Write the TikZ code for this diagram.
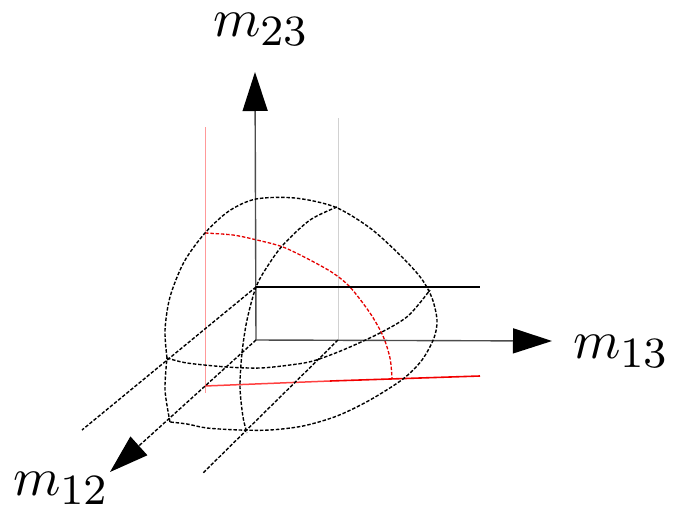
\documentclass[tikz,border=0pt]{standalone}
\usetikzlibrary{arrows.meta}
\DeclareMathSizes{10}{10}{8}{6}
\begin{document}
\begin{tikzpicture}[x=1pt,y=-1pt,
  dsh/.style={line width=1.4pt, dash pattern=on 3.5pt off 1.8pt, black},
  rdsh/.style={line width=1.3pt, dash pattern=on 3.5pt off 1.8pt, red!90!black},
  axisline/.style={line width=1.4pt, black!70},
  tiptri/.style={-{Triangle[length=39pt,width=25pt,color=black]}},
  lbl/.style={scale=5.4, inner sep=0pt, anchor=base west},
  every plot/.style={smooth, tension=0.5}]
\useasboundingbox (0,0) rectangle (673,507);
% key points
\coordinate (O) at (256,340);
\coordinate (P) at (256,287);
\coordinate (T23) at (255,72);
\coordinate (T13) at (552,341);
\coordinate (T12) at (110,472);
\coordinate (U) at (480,287);
\coordinate (L1e) at (82,430);
\coordinate (G) at (338,340);
\coordinate (Gt) at (338,118);
\coordinate (L3e) at (203,473);
\coordinate (R) at (205,386);
\coordinate (Rm) at (330,381);
\coordinate (Rt) at (205,127);
\coordinate (Rb) at (205,393);
\coordinate (Rr) at (480,376);
% thin guide lines
\draw[red!40, line width=0.9pt] (Rt) -- (Rb);
\draw[black!18, line width=0.9pt] (Gt) -- (G);
% red section
\draw[red!75, line width=1.5pt] (R) -- (Rm);
\draw[red!95!black, line width=1.6pt] (Rm) -- (Rr);
\draw[rdsh] plot coordinates {(205,233) (233,235) (257,240) (283,247) (310,260) (333,273) (350,287) (370,313) (383,336) (390,358) (392,378)};
% axes
\draw[axisline,tiptri] (O) -- (T23);
\draw[axisline,tiptri] (O) -- (T13);
\draw[dsh,tiptri] (O) -- (T12);
\draw[line width=1.5pt] (P) -- (U);
% lines along m12
\draw[dsh] (P) -- (L1e);
\draw[dsh] (G) -- (L3e);
% outer surface
\draw[dsh] plot coordinates {(170,422) (165,390) (167,358)};
\draw[dsh] plot coordinates {(167,358) (165,330) (170,297) (184,262) (205,233) (229,211) (256,199) (295,198) (335,207) (370,228) (400,255) (421,278) (432,298) (437,320) (434,338) (422,360) (403,379) (370,400) (337,416) (303,426) (270,430) (240,430) (207,428) (187,424) (170,422)};
% middle section
\draw[dsh] plot coordinates {(167,358) (187,363) (227,367) (260,368) (290,365) (313,361) (343,350) (380,333) (408,316) (430,290)};
% inner curve
\draw[dsh] plot coordinates {(337,207) (310,220) (283,245) (267,267) (256,287) (247,320) (242,353) (240,387) (243,417) (247,433)};
% labels
\node[lbl] (l23) at (212,36) {$m_{23}$};
\node[lbl] (l13) at (572,358) {$m_{13}$};
\node[lbl] (l12) at (12,495) {$m_{12}$};
\end{tikzpicture}
\end{document}
